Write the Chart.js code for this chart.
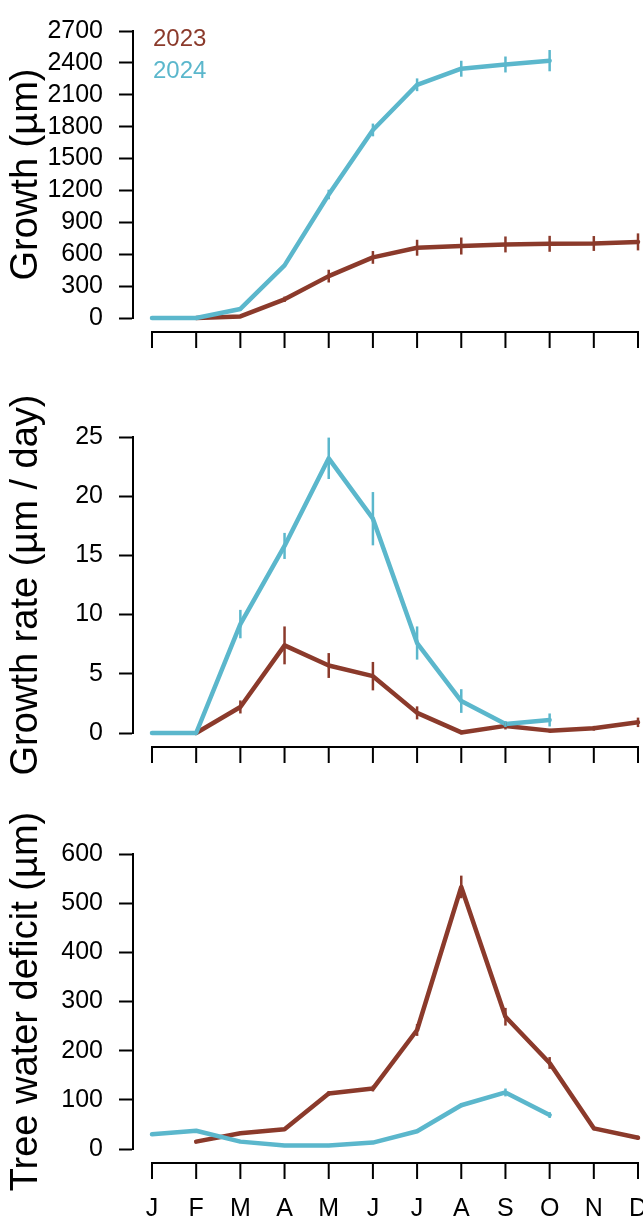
<!DOCTYPE html>
<html>
<head>
<meta charset="utf-8">
<script src="https://cdn.jsdelivr.net/npm/chart.js@4.4.1/dist/chart.umd.min.js"></script>
<style>
  body { margin: 0; background: #fff; overflow: hidden; }
  #wrap { position: relative; width: 643px; height: 1219px; }
  canvas { position: absolute; left: 0; }
</style>
</head>
<body>
<div id="wrap">
  <canvas id="growth" width="643" height="400" style="top:0px"></canvas>
  <canvas id="rate" width="643" height="440" style="top:360px"></canvas>
  <canvas id="deficit" width="643" height="439" style="top:780px"></canvas>
</div>
<script>
const months = ['J', 'F', 'M', 'A', 'M', 'J', 'J', 'A', 'S', 'O', 'N', 'D']

// cumulative growth (µm)
const growth2023 = [null, 0, 15, 176, 394, 570, 661, 677, 692, 698, 701, 716]
const growth2024 = [0, 0, 85, 495, 1162, 1769, 2194, 2345, 2385, 2421, null, null]
const growthErr2023 = [null, 0, 10, 25, 60, 60, 75, 80, 75, 75, 70, 80]
const growthErr2024 = [0, 0, 15, 10, 45, 60, 60, 75, 75, 100, null, null]

// growth rate (µm / day)
const rate2023 = [null, 0, 2.2, 7.4, 5.7, 4.8, 1.7, 0.05, 0.6, 0.2, 0.4, 0.9]
const rate2024 = [0, 0, 9.2, 15.8, 23.2, 18.1, 7.6, 2.7, 0.76, 1.1, null, null]
const rateErr2023 = [null, 0, 0.55, 1.6, 1.05, 1.2, 0.55, 0.15, 0.3, 0.15, 0.2, 0.4]
const rateErr2024 = [0, 0, 1.2, 1.1, 1.75, 2.25, 1.4, 1.0, 0.25, 0.55, null, null]

// tree water deficit (µm)
const deficit2023 = [null, 15, 32, 40, 113, 123, 242, 533, 269, 175, 42, 23]
const deficit2024 = [30, 37, 15, 7, 7, 13, 36, 89, 115, 69, null, null]
const deficitErr2023 = [null, 3, 3, 3, 5, 6, 12, 23, 18, 12, 4, 4]
const deficitErr2024 = [3, 3, 3, 3, 3, 3, 3, 4, 8, 6, null, null]

const brown = '#8b3a2b'
const blue = '#5bb7cc'
const fontFamily = '"Liberation Sans", Arial, sans-serif'

Chart.defaults.font.family = fontFamily
Chart.defaults.color = '#000'

const toPoints = (vals, errs) => vals.map((v, i) => ({ x: i, y: v, err: errs[i] }))

// R-style x axis, detached below the plot region
const rAxis = {
  id: 'rAxis',
  afterDraw(chart) {
    const { ctx, chartArea, scales: { x } } = chart
    const top = chartArea.bottom + 14
    ctx.save()
    ctx.strokeStyle = '#000'
    ctx.lineWidth = 2
    ctx.lineCap = 'square'
    ctx.beginPath()
    ctx.moveTo(x.getPixelForValue(0), top)
    ctx.lineTo(x.getPixelForValue(months.length - 1), top)
    months.forEach((m, i) => {
      const px = x.getPixelForValue(i)
      ctx.moveTo(px, top)
      ctx.lineTo(px, top + 15)
    })
    ctx.stroke()
    ctx.restore()
  },
}

const errorBars = {
  id: 'errorBars',
  afterDatasetsDraw(chart) {
    const { ctx, scales: { x, y } } = chart
    ctx.save()
    ctx.lineWidth = 2.5
    chart.data.datasets.forEach((ds) => {
      ctx.strokeStyle = ds.borderColor
      ds.data.forEach((p) => {
        if (p.y == null || !p.err) return
        const px = x.getPixelForValue(p.x)
        ctx.beginPath()
        ctx.moveTo(px, y.getPixelForValue(p.y - p.err))
        ctx.lineTo(px, y.getPixelForValue(p.y + p.err))
        ctx.stroke()
      })
    })
    ctx.restore()
  },
}

const yearLabels = {
  id: 'yearLabels',
  afterDraw(chart, args, opts) {
    if (!opts.show) return
    const { ctx, chartArea } = chart
    ctx.save()
    ctx.font = '24px ' + fontFamily
    ctx.textBaseline = 'middle'
    chart.data.datasets.forEach((ds, i) => {
      ctx.fillStyle = ds.borderColor
      ctx.fillText(ds.label, chartArea.left + 20, chartArea.top + 8 + i * 32)
    })
    ctx.restore()
  },
}

const makeChart = (id, cfg) =>
  new Chart(document.getElementById(id), {
    type: 'line',
    data: {
      datasets: [
        {
          label: '2023',
          data: toPoints(cfg.d2023, cfg.e2023),
          borderColor: brown,
          order: 1,
          clip: false,
        },
        {
          label: '2024',
          data: toPoints(cfg.d2024, cfg.e2024),
          borderColor: blue,
          order: 0,
          clip: false,
        },
      ],
    },
    options: {
      responsive: false,
      animation: false,
      devicePixelRatio: 1,
      layout: { padding: { top: cfg.top, right: 5, left: 0, bottom: 0 } },
      elements: {
        point: { radius: 0 },
        line: { borderWidth: 4.5, borderCapStyle: 'round', borderJoinStyle: 'round', tension: 0 },
      },
      plugins: {
        legend: { display: false },
        tooltip: { enabled: false },
        yearLabels: { show: !!cfg.legend },
      },
      scales: {
        x: {
          type: 'linear',
          min: -0.43,
          max: 11,
          afterBuildTicks: (s) => {
            s.ticks = months.map((m, i) => ({ value: i }))
          },
          afterFit: (s) => {
            s.height = cfg.xh
            s.paddingLeft = 0
            s.paddingRight = 0
          },
          grid: { display: false },
          border: { display: false },
          ticks: {
            display: !!cfg.showMonths,
            autoSkip: false,
            maxRotation: 0,
            padding: 37,
            font: { size: 25 },
            callback: (v) => months[v],
          },
        },
        y: {
          min: 0,
          max: cfg.max,
          afterFit: (s) => {
            s.width = 133
          },
          ticks: {
            stepSize: cfg.step,
            autoSkip: false,
            padding: 16,
            font: { size: 25 },
            callback: (v) => String(v),
          },
          grid: {
            drawOnChartArea: false,
            tickLength: 14,
            tickColor: '#000',
            tickWidth: 2,
          },
          border: { display: true, color: '#000', width: 2 },
          title: {
            display: true,
            text: cfg.title,
            font: { size: 38 },
            padding: { top: 4, bottom: 0 },
          },
        },
      },
    },
    plugins: [rAxis, errorBars, yearLabels],
  })

makeChart('growth', {
  d2023: growth2023, d2024: growth2024, e2023: growthErr2023, e2024: growthErr2024,
  max: 2700, step: 300, title: 'Growth (µm)', top: 23, xh: 82, legend: true,
})

makeChart('rate', {
  d2023: rate2023, d2024: rate2024, e2023: rateErr2023, e2024: rateErr2024,
  max: 25, step: 5, title: 'Growth rate (µm / day)', top: 77, xh: 67,
})

makeChart('deficit', {
  d2023: deficit2023, d2024: deficit2024, e2023: deficitErr2023, e2024: deficitErr2024,
  max: 600, step: 100, title: 'Tree water deficit (µm)', top: 74, xh: 70,
  showMonths: true,
})
</script>
</body>
</html>
